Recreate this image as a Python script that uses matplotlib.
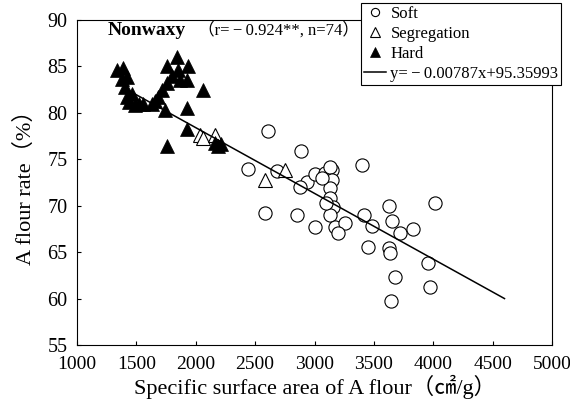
import numpy as np
import matplotlib
matplotlib.use("Agg")
import matplotlib.pyplot as plt

plt.rcParams['font.family'] = ['Liberation Serif', 'Noto Sans CJK JP']
plt.rcParams['axes.unicode_minus'] = True

# soft wheat (open circles)
soft_x = [2611, 2886, 2443, 3397, 2681, 2934, 3004, 3088, 3144, 3130,
          2878, 3144, 3130, 3130, 3158, 2583, 2855, 3130, 3172, 3004,
          3256, 3417, 3481, 3630, 3649, 3720, 3826, 4014, 3200, 3453,
          3630, 3636, 3953, 3678, 3972, 3641, 3100, 3060]
soft_y = [78.1, 75.9, 74.0, 74.4, 73.7, 72.6, 73.4, 73.5, 73.9, 74.2,
          72.0, 72.8, 71.9, 70.8, 69.9, 69.2, 69.0, 69.0, 67.7, 67.7,
          68.1, 69.0, 67.8, 70.0, 68.4, 67.1, 67.5, 70.3, 67.1, 65.6,
          65.5, 64.9, 63.8, 62.3, 61.3, 59.7, 70.3, 73.0]

# segregation (open triangles)
seg_x = [2036, 2060, 2162, 2583, 2751]
seg_y = [77.6, 77.3, 77.6, 72.8, 73.8]

# hard wheat (filled triangles)
hard_x = [1334, 1390, 1376, 1418, 1404, 1418, 1488, 1558, 1628, 1685,
          1712, 1755, 1755, 1839, 1853, 1937, 1867, 1923, 2063, 1741,
          1923, 1923, 1755, 2190, 2162, 1440, 1800, 1660, 2210, 1520, 1460]
hard_y = [84.6, 84.8, 83.7, 83.9, 82.8, 81.7, 80.8, 81.0, 81.0, 81.7,
          82.5, 83.2, 85.0, 86.0, 84.6, 85.0, 83.5, 83.5, 82.5, 80.3,
          80.5, 78.3, 76.4, 76.4, 76.8, 81.2, 84.0, 81.3, 76.6, 81.0, 82.0]

# regression line as drawn
fit_x = [1450, 4600]
fit_y = [82.3, 60.0]

xticks = [1000, 1500, 2000, 2500, 3000, 3500, 4000, 4500, 5000]
yticks = [55, 60, 65, 70, 75, 80, 85, 90]

fig = plt.figure(figsize=(5.70, 4.09), dpi=100)
ax = fig.add_axes([77/570, 1 - 345/409, 475/570, 325/409])

ax.plot(soft_x, soft_y, 'o', ms=9.5, mfc='white', mec='black', mew=0.8,
        ls='none', label='Soft', zorder=2)
ax.plot(seg_x, seg_y, '^', ms=10.5, mfc='white', mec='black', mew=0.8,
        ls='none', label='Segregation', zorder=2)
ax.plot(fit_x, fit_y, '-', color='black', lw=1.1,
        label='y=\u2009\u2212\u20090.00787x+95.35993', zorder=3)
ax.plot(hard_x, hard_y, '^', ms=10.5, mfc='black', mec='black', mew=0.5,
        ls='none', label='Hard', zorder=4)

ax.set_xlim(1000, 5000)
ax.set_ylim(55, 90)
ax.set_xticks(xticks)
ax.set_yticks(yticks)
ax.tick_params(direction='in', length=3, width=0.8)
ax.tick_params(axis='x', pad=8, labelsize=14)
ax.tick_params(axis='y', pad=7, labelsize=14.5)
for s in ax.spines.values():
    s.set_linewidth(0.8)

ax.set_xlabel('Specific surface area of A flour（㎠/g）', fontsize=16, labelpad=1)
ax.set_ylabel('A flour rate（%）', fontsize=16, labelpad=8)

ax.text(0.065, 0.954, 'Nonwaxy', transform=ax.transAxes, fontsize=14,
        fontweight='bold', va='baseline', ha='left')
ax.text(0.255, 0.954, '（r=\u2009\u2212\u20090.924**, n=74）', transform=ax.transAxes,
        fontsize=12, va='baseline', ha='left')

h, l = ax.get_legend_handles_labels()
order = [0, 1, 3, 2]
leg = ax.legend([h[i] for i in order], [l[i] for i in order],
                loc='upper right', bbox_to_anchor=(561/570, 1 - 3/409),
                bbox_transform=fig.transFigure, fontsize=12, markerscale=0.62,
                handlelength=1.3, handletextpad=0.3, borderpad=0.15,
                labelspacing=0.25, borderaxespad=0, frameon=True,
                fancybox=False, edgecolor='black', framealpha=1)
leg.get_frame().set_linewidth(0.8)

fig.savefig('out.png', dpi=100)
